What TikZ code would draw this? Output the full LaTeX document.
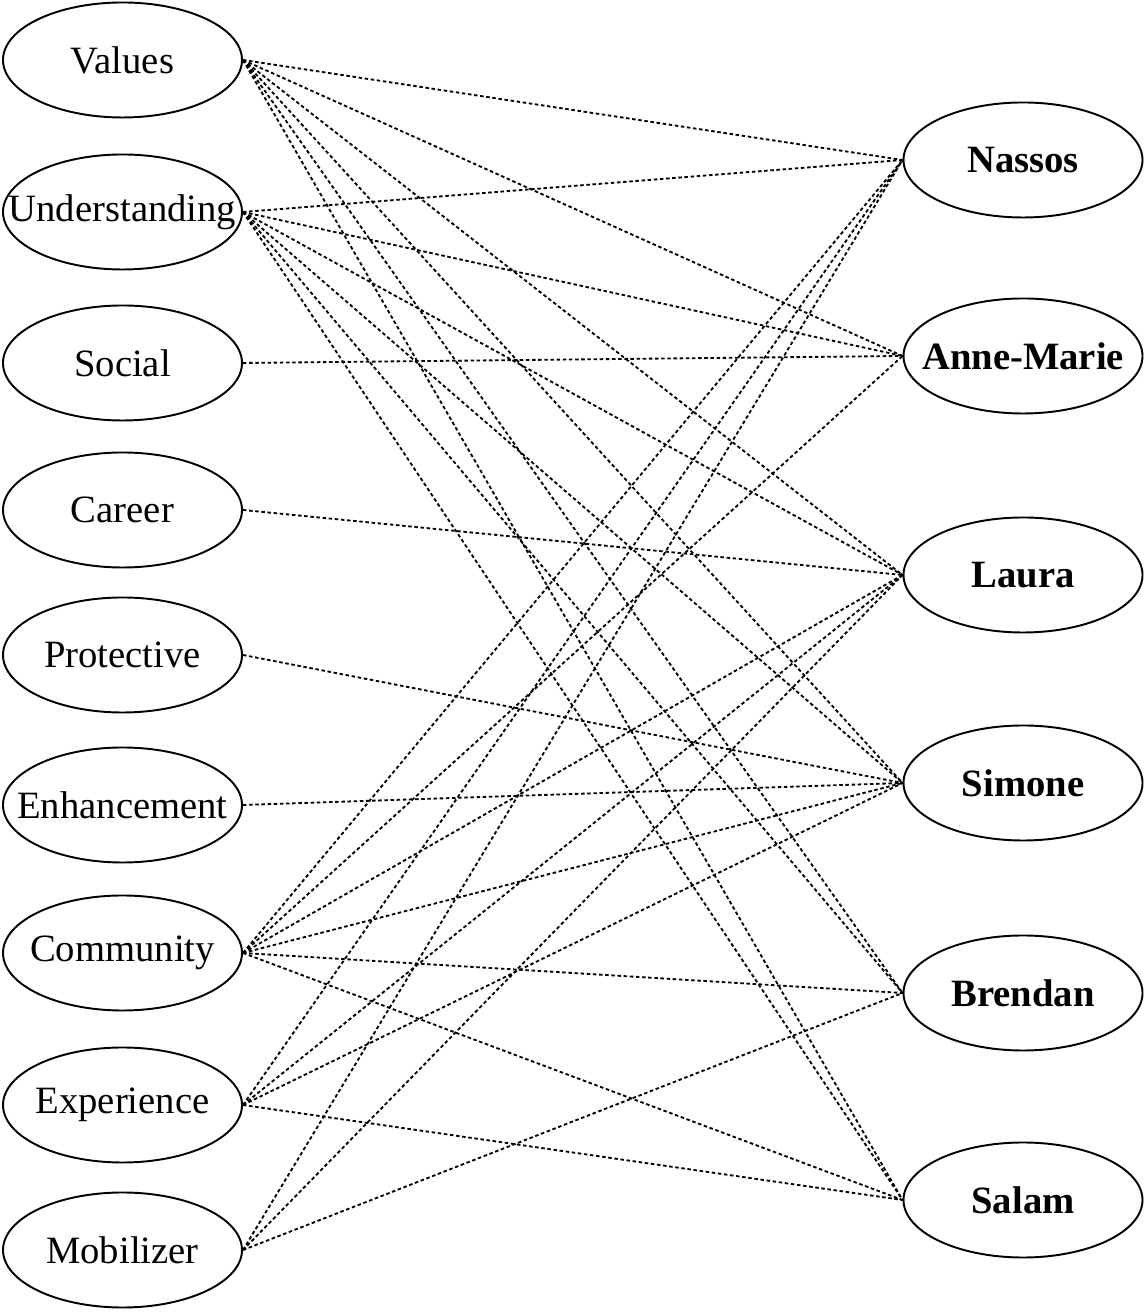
\documentclass[tikz,border=0pt]{standalone}
\usepackage{fontspec}
\setmainfont{Liberation Serif}
\usetikzlibrary{shapes.geometric}
\newcommand{\slim}[1]{\makebox[0pt]{#1}}
\tikzset{
    motive/.style={draw, ellipse, line width=1.1pt, minimum width=4.78cm, minimum height=2.3cm, inner sep=0pt, font=\fontsize{22}{26}\selectfont},
    person/.style={motive, font=\fontsize{22}{26}\selectfont\bfseries},
    link/.style={line width=1.05pt, dash pattern=on 2pt off 1.5pt}
}
\begin{document}
\begin{tikzpicture}
    \useasboundingbox (0,0) rectangle (22.9,26.28);
    \node[motive] (values)      at (2.45, 25.08) {\slim{Values}};
    \node[motive] (understand)  at (2.45, 22.04) {\slim{Understanding}};
    \node[motive] (social)      at (2.45, 19.02) {\slim{Social}};
    \node[motive] (career)      at (2.45, 16.08) {\slim{Career}};
    \node[motive] (protective)  at (2.45, 13.18) {\slim{Protective}};
    \node[motive] (enhance)     at (2.45, 10.18) {\slim{Enhancement}};
    \node[motive] (community)   at (2.45, 7.22)  {\slim{Community}};
    \node[motive] (experience)  at (2.45, 4.18)  {\slim{Experience}};
    \node[motive] (mobilizer)   at (2.45, 1.28)  {\slim{Mobilizer}};
    \node[person] (nassos)      at (20.46, 23.08) {\slim{Nassos}};
    \node[person] (annemarie)   at (20.46, 19.16) {\slim{Anne-Marie}};
    \node[person] (laura)       at (20.46, 14.78) {\slim{Laura}};
    \node[person] (simone)      at (20.46, 10.62) {\slim{Simone}};
    \node[person] (brendan)     at (20.46, 6.42)  {\slim{Brendan}};
    \node[person] (salam)       at (20.46, 2.28)  {\slim{Salam}};
    \foreach \p in {nassos, annemarie, laura, simone, brendan, salam} {
        \draw[link] (values.east) -- (\p.west);
        \draw[link] (understand.east) -- (\p.west);
        \draw[link] (community.east) -- (\p.west);
    }
    \draw[link] (social.east) -- (annemarie.west);
    \draw[link] (career.east) -- (laura.west);
    \draw[link] (protective.east) -- (simone.west);
    \draw[link] (enhance.east) -- (simone.west);
    \foreach \p in {nassos, laura, simone, salam}
        \draw[link] (experience.east) -- (\p.west);
    \foreach \p in {nassos, laura, brendan}
        \draw[link] (mobilizer.east) -- (\p.west);
\end{tikzpicture}
\end{document}
